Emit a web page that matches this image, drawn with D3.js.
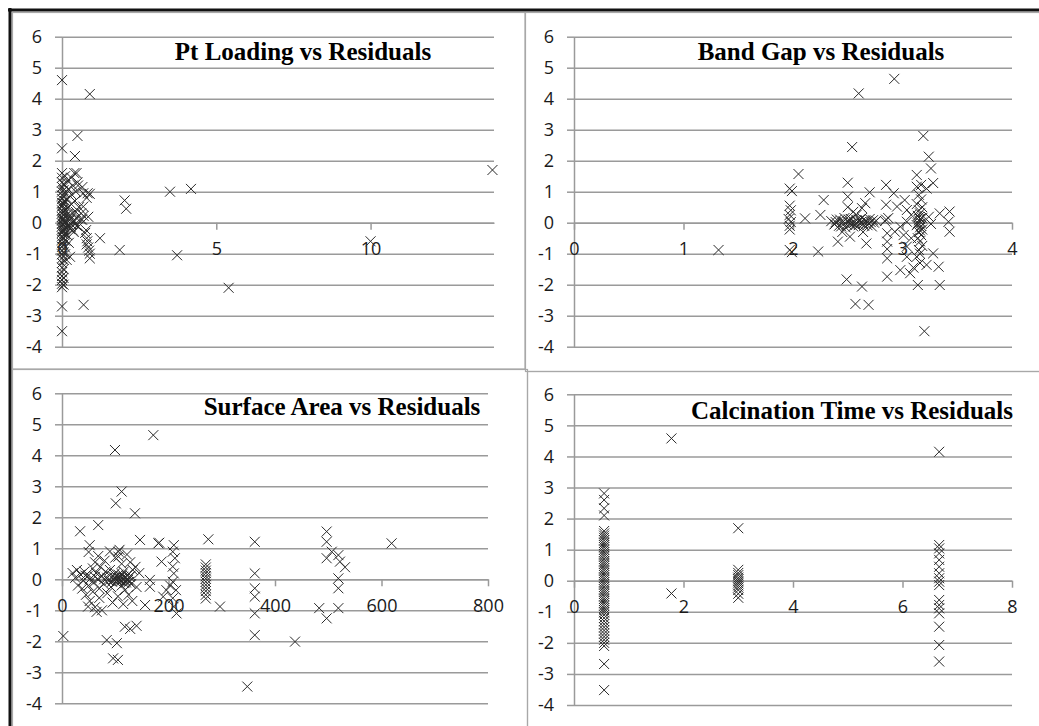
<!DOCTYPE html>
<html>
<head>
<meta charset="utf-8">
<script src="https://cdnjs.cloudflare.com/ajax/libs/d3/7.8.5/d3.min.js"></script>
<style>
  body { margin: 0; background: #fff; }
  .title { font-family: "Liberation Serif", "Times New Roman", serif; font-weight: bold; font-size: 25px; fill: #000; }
</style>
</head>
<body>
<div id="chart"></div>
<script>
// Residual scale shared by the four panels
var yTicks = [-4, -3, -2, -1, 0, 1, 2, 3, 4, 5, 6];

// Titles
var titles = ["Pt Loading vs Residuals", "Band Gap vs Residuals", "Surface Area vs Residuals", "Calcination Time vs Residuals"];

// X tick labels
var ptTicks = [0, 5, 10];
var bandTicks = [0, 1, 2, 3, 4];
var areaTicks = [0, 200, 400, 600, 800];
var calcTicks = [0, 2, 4, 6, 8];

// Pt loading (wt%) vs residual
var ptLoadingPts = [
  [0,4.6],[0,2.4],[0,1.6],[0,1.45],[0,1.3],[0,1.15],[0,1.0],[0,0.88],[0,0.76],[0,0.64],[0,0.52],[0,0.4],
  [0,0.3],[0,0.18],[0,0.08],[0,-0.02],[0,-0.12],[0,-0.22],[0,-0.33],[0,-0.44],[0,-0.55],[0,-0.66],[0,-0.78],
  [0,-0.9],[0,-1.02],[0,-1.15],[0,-1.3],[0,-1.45],[0,-1.6],[0,-1.72],[0,-1.85],[0,-1.97],[0,-2.08],[0,-2.7],[0,-3.5],
  [0.05,1.25],[0.05,1.05],[0.05,0.85],[0.05,0.62],[0.05,0.45],[0.05,0.25],[0.05,0.1],[0.05,-0.06],[0.05,-0.25],
  [0.05,-0.48],[0.05,-0.7],[0.05,-0.95],[0.05,-1.2],[0.05,-1.5],[0.05,-1.78],[0.05,-2.0],
  [0.1,1.5],[0.1,1.2],[0.1,0.95],[0.1,0.7],[0.1,0.42],[0.1,0.2],[0.1,0.02],[0.1,-0.16],[0.1,-0.36],[0.1,-0.58],[0.1,-0.8],[0.1,-1.02],
  [0.02,0.55],[0.03,0.35],[0.02,0.12],[0.03,-0.08],[0.02,-0.3],[0.03,-0.5],[0.07,0.3],[0.07,0.0],[0.07,-0.2],[0.08,-0.4],
  [0.18,1.35],[0.2,1.08],[0.16,0.78],[0.22,0.5],[0.18,0.28],[0.25,0.08],[0.2,-0.12],[0.17,-0.4],[0.22,-0.65],[0.26,-1.1],[0.15,-1.2],
  [0.3,1.45],[0.35,1.2],[0.32,0.9],[0.3,0.6],[0.35,0.3],[0.28,-0.13],[0.4,1.6],[0.42,2.15],[0.45,1.0],[0.42,0.7],[0.45,0.35],
  [0.4,0.05],[0.38,-0.3],[0.47,1.6],[0.5,2.8],[0.5,1.3],[0.47,0.15],[0.52,1.2],[0.53,-0.13],[0.55,0.5],
  [0.25,0.25],[0.3,0.15],[0.35,0.05],[0.42,-0.05],[0.48,-0.1],[0.3,-0.05],[0.25,-0.2],[0.35,-0.25],
  [0.62,0.3],[0.62,0.1],[0.66,1.15],[0.69,0.95],[0.69,0.52],[0.65,0.1],[0.7,0.22],[0.7,-2.65],[0.75,-0.33],[0.78,-0.24],
  [0.8,0.8],[0.8,-0.5],[0.8,-0.7],[0.82,-0.6],[0.83,0.95],[0.85,0.19],[0.85,-0.8],[0.88,-0.9],[0.9,0.93],[0.9,4.15],
  [0.9,-1.0],[0.9,-1.15],
  [1.23,-0.5],[1.87,-0.88],[2.03,0.72],[2.08,0.45],[3.5,1.0],[4.18,1.09],[3.73,-1.05],[5.4,-2.1],[10,-0.6],[13.95,1.7]
];

// Band gap (eV) vs residual
var bandGapPts = [
  [1.32,-0.88],
  [1.97,1.1],[1.99,1.02],[1.97,0.55],[1.98,0.4],[1.97,0.25],[1.96,0.12],[1.98,0.02],[1.97,-0.1],[1.97,-0.22],[1.97,-0.88],[1.99,-0.95],
  [2.05,1.57],[2.11,0.14],[2.25,0.25],[2.28,0.73],[2.23,-0.93],
  [2.35,0.05],[2.38,-0.05],[2.4,0.1],[2.42,-0.1],[2.45,0.0],[2.47,0.15],[2.48,-0.15],[2.5,0.05],[2.52,-0.05],[2.53,0.12],
  [2.55,-0.12],[2.56,0.0],[2.58,0.08],[2.6,-0.08],[2.62,0.02],[2.63,0.15],[2.65,-0.1],[2.67,0.05],[2.69,-0.02],[2.7,0.12],
  [2.72,-0.12],[2.74,0.0],[2.76,0.06],
  [2.46,0.04],[2.49,-0.06],[2.51,0.1],[2.54,-0.02],[2.57,-0.08],[2.59,0.04],[2.61,0.1],[2.64,-0.04],[2.66,0.08],[2.68,-0.08],
  [2.71,0.02],[2.73,0.08],[2.44,-0.12],[2.39,0.02],
  [2.5,1.29],[2.5,0.84],[2.5,0.5],[2.55,0.35],[2.45,-0.3],[2.41,-0.61],[2.52,-0.45],[2.64,-0.3],[2.67,-0.67],[2.7,0.98],
  [2.66,0.63],[2.63,0.47],[2.58,0.25],[2.43,0.1],[2.38,-0.05],[2.49,-1.83],[2.63,-2.06],[2.57,-2.62],[2.69,-2.65],[2.54,2.44],[2.6,4.17],
  [2.85,1.22],[2.92,0.95],[2.85,0.58],[2.95,0.52],[3.02,0.73],[3.04,0.41],[3.08,0.25],[3.04,0.03],[2.98,-0.13],[2.93,-0.29],
  [3.01,-0.4],[3.08,-0.5],[3.04,-0.77],[2.86,-0.34],[2.86,-0.61],[2.86,-0.85],[2.86,-1.15],[2.98,-1.53],[3.07,-1.63],[2.86,-1.74],
  [2.85,0.1],[2.87,0.15],[2.84,0.05],[2.925,4.64],
  [3.15,0.9],[3.17,0.75],[3.13,0.6],[3.18,0.5],[3.15,0.4],[3.16,0.3],[3.14,0.22],[3.18,0.15],[3.15,0.08],[3.17,0.0],
  [3.13,-0.08],[3.16,-0.15],[3.18,-0.22],[3.15,-0.3],[3.17,-0.4],[3.14,-0.5],[3.16,-0.6],[3.18,-0.75],[3.15,-0.88],
  [3.16,0.12],[3.14,-0.02],[3.17,-0.1],[3.15,0.18],[3.16,-0.25],
  [3.24,2.13],[3.26,1.75],[3.13,1.54],[3.28,1.28],[3.13,1.16],[3.17,1.22],[3.22,1.1],[3.19,2.8],
  [3.34,0.3],[3.43,0.36],[3.42,0.03],[3.43,-0.29],[3.24,0.19],[3.26,-0.04],
  [3.28,-0.99],[3.22,-1.36],[3.33,-1.42],[3.13,-1.1],[3.16,-1.0],[3.16,-1.3],[3.04,-1.1],[3.1,-1.45],
  [3.14,-2.01],[3.34,-2.01],[3.2,-3.5]
];

// Surface area (m2/g) vs residual
var surfaceAreaPts = [
  [171.5,4.65],[99.5,4.17],[112,2.83],[101,2.45],[137,2.13],[34,1.55],[68,1.75],[146.5,1.27],[182.7,1.18],[2.5,-1.83],
  [96,-2.55],[105,-2.6],[103,-2.06],[84,-1.96],[118,-1.53],[140,-1.5],[128,-1.6],[49,-0.88],[65,-1.05],[156,-0.83],
  [20,0.2],[28,0.3],[25,0.05],[35,0.15],[40,-0.05],[42,0.25],[48,0.1],[50,-0.2],[55,0.05],[58,0.35],[60,-0.1],[64,0.2],
  [68,0.0],[70,-0.3],[72,0.4],[75,0.1],[78,-0.15],[82,0.25],[85,0.05],[88,-0.05],[90,0.3],[92,-0.25],[95,0.1],[97,0.0],
  [100,0.2],[102,-0.1],[104,0.05],[106,0.15],[108,-0.05],[110,0.1],[112,-0.2],[114,0.0],[116,0.25],[118,0.05],[120,-0.1],
  [122,0.12],[124,-0.02],[127,0.08],[130,-0.15],[133,0.3],
  [44,0.12],[52,0.0],[62,0.08],[79,0.0],[94,-0.08],[99,0.06],[103,-0.02],[107,0.04],[111,-0.06],[115,0.08],[119,-0.04],
  [123,0.02],[126,-0.08],[129,0.12],[117,-0.12],[113,0.16],
  [45,-0.5],[52,-0.7],[58,-0.4],[62,-0.9],[70,-0.6],[75,-1.0],[80,0.6],[85,-0.45],[90,0.9],[95,-0.75],[100,0.7],[105,-0.55],
  [108,0.95],[112,0.5],[115,-0.8],[118,-0.35],[122,0.8],[125,-0.5],[128,0.55],[132,-0.7],[138,0.4],[140,-0.25],[145,0.2],
  [52,1.1],[50,0.88],[106,0.89],[106,0.73],[38,-0.3],[30,-0.2],[62,0.55],[68,0.75],
  [187,0.57],[165,-0.02],[165,-0.24],[196,-0.35],[190,-0.56],[203,-0.2],[181,1.16],
  [210,1.1],[208,0.89],[212,0.68],[208,0.41],[210,0.19],[208,-0.08],[214,-0.35],[208,-0.61],[215,-1.1],[210,-0.88],
  [270,0.48],[270,0.38],[270,0.28],[270,0.2],[270,0.1],[270,0.02],[270,-0.08],[270,-0.18],[270,-0.28],[270,-0.38],
  [270,-0.5],[270,-0.62],[274.8,1.29],[296.7,-0.88],
  [362,1.21],[362,0.19],[362,-0.29],[362,-0.56],[362,-1.1],[362,-1.8],[348,-3.46],[437.6,-2.01],
  [497,1.54],[497,1.21],[506.6,0.89],[519,0.78],[497,0.68],[522,0.57],[531.5,0.39],[519,0.03],[519,-0.29],[519,-0.93],
  [483,-0.93],[497,-1.26],[619,1.16]
];

// Calcination time (h) vs residual
var calcTimePts = [
  [0.55,2.81],[0.55,2.6],[0.55,2.33],[0.55,2.1],[0.55,1.6],[0.55,1.52],[0.55,1.45],[0.55,1.38],[0.55,1.3],[0.55,1.22],
  [0.55,1.15],[0.55,1.08],[0.55,1.0],[0.55,0.92],[0.55,0.85],[0.55,0.78],[0.55,0.7],[0.55,0.62],[0.55,0.55],[0.55,0.48],
  [0.55,0.4],[0.55,0.33],[0.55,0.25],[0.55,0.18],[0.55,0.1],[0.55,0.03],[0.55,-0.05],[0.55,-0.12],[0.55,-0.2],[0.55,-0.28],
  [0.55,-0.35],[0.55,-0.42],[0.55,-0.5],[0.55,-0.58],[0.55,-0.65],[0.55,-0.72],[0.55,-0.8],[0.55,-0.88],[0.55,-0.95],
  [0.55,-1.02],[0.55,-1.1],[0.55,-1.2],[0.55,-1.3],[0.55,-1.4],[0.55,-1.5],[0.55,-1.6],[0.55,-1.7],[0.55,-1.8],[0.55,-1.9],
  [0.55,-2.0],[0.55,-2.1],[0.55,-2.68],[0.55,-3.52],
  [1.78,4.58],[1.78,-0.41],
  [3.0,1.69],[3.0,0.35],[3.0,0.25],[3.0,0.18],[3.0,0.1],[3.0,0.04],[3.0,-0.02],[3.0,-0.08],[3.0,-0.15],[3.0,-0.22],
  [3.0,-0.3],[3.0,-0.42],[3.0,-0.55],
  [6.67,4.15],[6.67,1.15],[6.67,1.04],[6.67,0.88],[6.67,0.67],[6.67,0.45],[6.67,0.24],[6.67,0.08],[6.67,-0.03],[6.67,-0.14],
  [6.67,-0.62],[6.67,-0.78],[6.67,-0.89],[6.67,-1.05],[6.67,-1.48],[6.67,-2.07],[6.67,-2.6]
];

// Panel layout
var panels = [
  { pts: ptLoadingPts, title: titles[0], xDomain: [0, 14], xTicks: ptTicks, left: 62, right: 494, top: 36.7, bottom: 346.7, tx: 303, ty: 60 },
  { pts: bandGapPts, title: titles[1], xDomain: [0, 4], xTicks: bandTicks, left: 574, right: 1012, top: 36.7, bottom: 346.7, tx: 821, ty: 60 },
  { pts: surfaceAreaPts, title: titles[2], xDomain: [0, 800], xTicks: areaTicks, left: 62, right: 488, top: 393.3, bottom: 703.3, tx: 342, ty: 415 },
  { pts: calcTimePts, title: titles[3], xDomain: [0, 8], xTicks: calcTicks, left: 574, right: 1012, top: 394.3, bottom: 705, tx: 852, ty: 419 }
];

var gridColor = "#9a9a9a";
var markColor = "#2a2a2a";

var svg = d3.select("#chart")
  .append("svg")
  .attr("width", 1039)
  .attr("height", 726);

svg.append("rect").attr("width", 1039).attr("height", 726).attr("fill", "#fff");

// Panel frames
var frames = [[12.5, 12.5, 512.5, 356.5], [525.5, 12.5, 530, 359], [12.5, 369.5, 515, 370], [527.5, 371.5, 530, 370]];
svg.selectAll(".frame")
  .data(frames)
  .enter()
  .append("rect")
  .attr("x", d => d[0]).attr("y", d => d[1])
  .attr("width", d => d[2]).attr("height", d => d[3])
  .attr("fill", "none")
  .attr("stroke", "#a8a8a8")
  .attr("stroke-width", 1.2);

// Outer black edge
svg.append("line").attr("x1", 8).attr("x2", 1039).attr("y1", 10).attr("y2", 10)
  .attr("stroke", "#111").attr("stroke-width", 3);
svg.append("line").attr("x1", 10).attr("x2", 10).attr("y1", 8).attr("y2", 726)
  .attr("stroke", "#111").attr("stroke-width", 3);

panels.forEach(drawPanel);

function drawPanel(p) {
  var xScale = d3.scaleLinear().domain(p.xDomain).range([p.left, p.right]);
  var yScale = d3.scaleLinear().domain([-4, 6]).range([p.bottom, p.top]);
  var width = p.right - p.left;

  var g = svg.append("g");

  // Horizontal gridlines
  var grid = g.append("g")
    .attr("transform", `translate(${p.left}, 0)`)
    .call(d3.axisLeft(yScale).tickValues(yTicks).tickSize(-width).tickFormat(""));
  grid.select(".domain").remove();
  grid.selectAll("line").attr("stroke", gridColor).attr("stroke-width", 1.5);

  // Y axis with outside ticks
  var yAxis = g.append("g")
    .attr("transform", `translate(${p.left}, 0)`)
    .call(d3.axisLeft(yScale).tickValues(yTicks).tickSize(7).tickSizeOuter(0).tickPadding(13)
      .tickFormat(d => d < 0 ? "-" + Math.abs(d) : String(d)));
  yAxis.select(".domain").attr("stroke", gridColor).attr("stroke-width", 1.5);
  yAxis.selectAll("line").attr("stroke", gridColor).attr("stroke-width", 1.5);
  yAxis.selectAll("text")
    .attr("font-family", "'Open Sans', sans-serif")
    .attr("font-size", "18px")
    .attr("fill", "#1a1a1a");

  // X axis across the zero line
  var xAxis = g.append("g")
    .attr("transform", `translate(0, ${yScale(0)})`)
    .call(d3.axisBottom(xScale).tickValues(p.xTicks).tickSize(7).tickSizeOuter(0).tickPadding(13)
      .tickFormat(d3.format("d")));
  xAxis.select(".domain").attr("stroke", gridColor).attr("stroke-width", 1.5);
  xAxis.selectAll("line").attr("stroke", gridColor).attr("stroke-width", 1.5);
  xAxis.selectAll("text")
    .attr("font-family", "'Open Sans', sans-serif")
    .attr("font-size", "18px")
    .attr("fill", "#1a1a1a");

  // X markers
  g.selectAll(".mark")
    .data(p.pts)
    .enter()
    .append("path")
    .attr("d", "M-5,-5L5,5M-5,5L5,-5")
    .attr("transform", d => `translate(${xScale(d[0])}, ${yScale(d[1])})`)
    .attr("stroke", markColor)
    .attr("stroke-width", 1)
    .attr("fill", "none");

  // Title
  g.append("text")
    .attr("class", "title")
    .attr("x", p.tx)
    .attr("y", p.ty)
    .attr("text-anchor", "middle")
    .text(p.title);
}
</script>
</body>
</html>
